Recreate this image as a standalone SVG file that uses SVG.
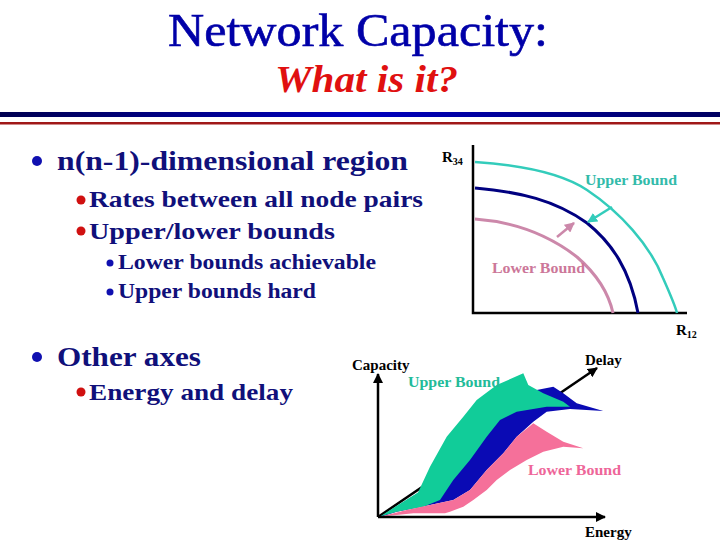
<svg xmlns="http://www.w3.org/2000/svg" width="720" height="540" viewBox="0 0 720 540">
<defs>
<linearGradient id="bar" x1="0" x2="1" y1="0" y2="0">
<stop offset="0" stop-color="#000050"/><stop offset="0.5" stop-color="#0000c0"/><stop offset="1" stop-color="#000060"/>
</linearGradient>
<marker id="ah" viewBox="0 0 10 10" refX="9" refY="5" markerWidth="4" markerHeight="4" orient="auto"><path d="M0,0 L10,5 L0,10 z" fill="#000"/></marker>
<marker id="ahT" viewBox="0 0 10 10" refX="9" refY="5" markerWidth="4" markerHeight="4" orient="auto"><path d="M0,0 L10,5 L0,10 z" fill="#33ccbb"/></marker>
<marker id="ahP" viewBox="0 0 10 10" refX="9" refY="5" markerWidth="4" markerHeight="4" orient="auto"><path d="M0,0 L10,5 L0,10 z" fill="#cc88aa"/></marker>
<style>
.t{font-family:"Liberation Serif","Times New Roman",serif;}
.b{font-family:"Liberation Serif","Times New Roman",serif;font-weight:bold;fill:#10107a;}
.lbl{font-family:"Liberation Serif","Times New Roman",serif;font-weight:bold;font-size:15px;}
.ax{stroke:#000;stroke-width:2.5;fill:none;}
</style>
</defs>
<rect width="720" height="540" fill="#fff"/>
<g id="title">
<text class="t" x="168" y="46" font-size="46" fill="#0000a8" stroke="#0000a8" stroke-width="0.6" textLength="380" lengthAdjust="spacingAndGlyphs">Network Capacity:</text>
<text class="t" x="275" y="92" font-size="38" font-style="italic" font-weight="bold" fill="#e01010" textLength="183" lengthAdjust="spacingAndGlyphs">What is it?</text>
<rect x="0" y="112" width="720" height="5" fill="url(#bar)"/>
<rect x="0" y="122" width="720" height="2.5" fill="#a01818"/>
</g>
<g id="bullets">
<circle cx="37" cy="161" r="5" fill="#1010b0"/>
<text class="b" x="57" y="170" font-size="28" textLength="351" lengthAdjust="spacingAndGlyphs">n(n-1)-dimensional region</text>
<circle cx="81" cy="200" r="4.5" fill="#d01010"/>
<text class="b" x="89" y="207" font-size="24" textLength="334" lengthAdjust="spacingAndGlyphs">Rates between all node pairs</text>
<circle cx="81" cy="231" r="4.5" fill="#d01010"/>
<text class="b" x="89" y="239" font-size="24" textLength="246" lengthAdjust="spacingAndGlyphs">Upper/lower bounds</text>
<circle cx="110" cy="263" r="3.5" fill="#1010b0"/>
<text class="b" x="118" y="269" font-size="20" textLength="258" lengthAdjust="spacingAndGlyphs">Lower bounds achievable</text>
<circle cx="110" cy="292" r="3.5" fill="#1010b0"/>
<text class="b" x="118" y="298" font-size="20" textLength="198" lengthAdjust="spacingAndGlyphs">Upper bounds hard</text>
<circle cx="37" cy="357" r="5" fill="#1010b0"/>
<text class="b" x="57" y="366" font-size="28" textLength="144" lengthAdjust="spacingAndGlyphs">Other axes</text>
<circle cx="81" cy="392" r="4.5" fill="#d01010"/>
<text class="b" x="89" y="400" font-size="24" textLength="204" lengthAdjust="spacingAndGlyphs">Energy and delay</text>
</g>
<g id="rate-region">
<path class="ax" d="M473,145 L473,313 L687,313" stroke-width="2"/>
<text class="lbl" x="442" y="162" fill="#000">R<tspan font-size="10" dy="3">34</tspan></text>
<text class="lbl" x="676" y="335" fill="#000">R<tspan font-size="10" dy="3">12</tspan></text>
<path d="M475,162 C520,165 560,172 587,190 C620,212 650,245 663,278 C671,296 675,305 677,313" fill="none" stroke="#33ccbb" stroke-width="2.5"/>
<path d="M475,188 C520,192 555,200 587,223 C612,243 630,270 638,313" fill="none" stroke="#000080" stroke-width="3"/>
<path d="M475,219 C515,222 550,236 577,257 C600,277 609,295 613,313" fill="none" stroke="#cc88aa" stroke-width="3"/>
<line x1="612" y1="207" x2="588" y2="222" stroke="#33ccbb" stroke-width="2.5" marker-end="url(#ahT)"/>
<line x1="557" y1="237" x2="574" y2="223" stroke="#cc88aa" stroke-width="2.5" marker-end="url(#ahP)"/>
<text class="lbl" x="585" y="185" fill="#33bbaa" textLength="92" lengthAdjust="spacingAndGlyphs">Upper Bound</text>
<text class="lbl" x="492" y="273" fill="#cc7799" textLength="93" lengthAdjust="spacingAndGlyphs">Lower Bound</text>
</g>
<g id="energy-delay">
<line class="ax" x1="378" y1="517" x2="597" y2="368" marker-end="url(#ah)"/>
<path d="M380,517 L418,493 L440,470 L470,440 L520,400 L536.7,390 L553.3,386.7 L563.3,393.3 L576.7,403.3 L603.3,411 L570,409 L546.7,411.7 L533.3,421.7 L516.7,436.7 L503.3,453.3 L486.7,470 L470,490 L453.3,500 L430,505 L396.7,511.7 Z" fill="#0a0ab4"/>
<path d="M380,516.5 L398,505 L418,492.5 L430,466.7 L446.7,436.7 L463.3,416.7 L476.7,400 L496.7,385 L523.3,373.3 L528.3,385 L543.3,393.3 L563.3,401.7 L570,406.7 L546.7,406.7 L516.7,411.7 L500,420 L486.7,436.7 L470,460 L453.3,480 L440,500 L423.3,506.7 L396.7,511.7 Z" fill="#11cc99"/>
<path d="M380,516.7 L406.7,510 L430,505 L453.3,500 L470,490 L486.7,470 L503.3,453.3 L516.7,436.7 L533.3,423.3 L546.7,431.7 L563.3,441.7 L583.3,448.3 L563.3,446.7 L543.3,451.7 L526.7,460 L510,470 L496.7,480 L486.7,490 L473.3,500 L463.3,506.7 L450,511.7 L445,513.3 L413.3,513.3 Z" fill="#f5709a"/>
<line class="ax" x1="378" y1="517" x2="378" y2="374" marker-end="url(#ah)"/>
<line class="ax" x1="378" y1="517" x2="605" y2="517" marker-end="url(#ah)"/>
<text class="lbl" x="352" y="370" fill="#000">Capacity</text>
<text class="lbl" x="585" y="365" fill="#000">Delay</text>
<text class="lbl" x="585" y="537" fill="#000">Energy</text>
<text class="lbl" x="408" y="387" fill="#22bb99" textLength="92" lengthAdjust="spacingAndGlyphs">Upper Bound</text>
<text class="lbl" x="528" y="475" fill="#ee6699" textLength="93" lengthAdjust="spacingAndGlyphs">Lower Bound</text>
</g>
</svg>
